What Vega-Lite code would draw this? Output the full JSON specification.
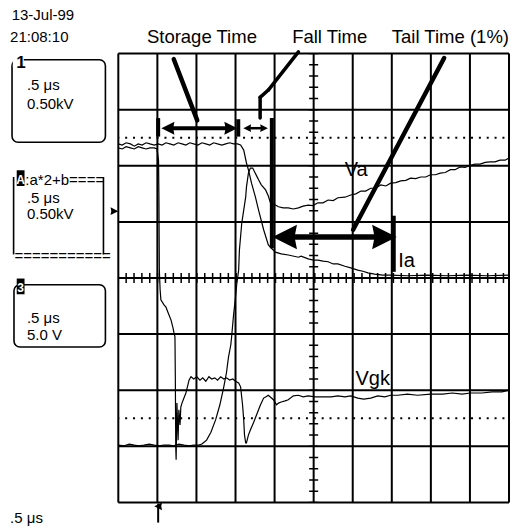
{
  "$schema": "https://vega.github.io/schema/vega-lite/v6.json",
  "width": 514,
  "height": 529,
  "autosize": {"type": "fit", "contains": "padding"},
  "padding": 0,
  "background": "white",
  "config": {"view": {"stroke": null}},
  "datasets": {
    "grid": [
      {"x": 0, "y": -4, "x2": 0, "y2": 4}, {"x": 1, "y": -4, "x2": 1, "y2": 4}, {"x": 2, "y": -4, "x2": 2, "y2": 4},
      {"x": 3, "y": -4, "x2": 3, "y2": 4}, {"x": 4, "y": -4, "x2": 4, "y2": 4}, {"x": 5, "y": -4, "x2": 5, "y2": 4},
      {"x": 6, "y": -4, "x2": 6, "y2": 4}, {"x": 7, "y": -4, "x2": 7, "y2": 4}, {"x": 8, "y": -4, "x2": 8, "y2": 4},
      {"x": 9, "y": -4, "x2": 9, "y2": 4}, {"x": 10, "y": -4, "x2": 10, "y2": 4},
      {"x": 0, "y": -4, "x2": 10, "y2": -4}, {"x": 0, "y": -3, "x2": 10, "y2": -3}, {"x": 0, "y": -2, "x2": 10, "y2": -2},
      {"x": 0, "y": -1, "x2": 10, "y2": -1}, {"x": 0, "y": 0, "x2": 10, "y2": 0}, {"x": 0, "y": 1, "x2": 10, "y2": 1},
      {"x": 0, "y": 2, "x2": 10, "y2": 2}, {"x": 0, "y": 3, "x2": 10, "y2": 3}, {"x": 0, "y": 4, "x2": 10, "y2": 4}
    ],
    "dotted": [
      {"x": 0, "y": 2.5, "x2": 10, "y2": 2.5},
      {"x": 0, "y": -2.5, "x2": 10, "y2": -2.5}
    ],
    "centerH": [{"x": 0, "y": 0, "x2": 10, "y2": 0}],
    "centerV": [{"x": 5, "y": -4, "x2": 5, "y2": 4}],
    "traces": [
      {"trace": "Ia", "x": 0, "y": 2.39}, {"trace": "Ia", "x": 0.10, "y": 2.37}, {"trace": "Ia", "x": 0.20, "y": 2.41},
      {"trace": "Ia", "x": 0.31, "y": 2.39}, {"trace": "Ia", "x": 0.41, "y": 2.35}, {"trace": "Ia", "x": 0.51, "y": 2.39},
      {"trace": "Ia", "x": 0.61, "y": 2.37}, {"trace": "Ia", "x": 0.71, "y": 2.41}, {"trace": "Ia", "x": 0.81, "y": 2.39},
      {"trace": "Ia", "x": 0.92, "y": 2.37}, {"trace": "Ia", "x": 1.02, "y": 2.39}, {"trace": "Ia", "x": 1.12, "y": 2.37},
      {"trace": "Ia", "x": 1.22, "y": 2.41}, {"trace": "Ia", "x": 1.32, "y": 2.39}, {"trace": "Ia", "x": 1.42, "y": 2.37},
      {"trace": "Ia", "x": 1.53, "y": 2.41}, {"trace": "Ia", "x": 1.63, "y": 2.39}, {"trace": "Ia", "x": 1.73, "y": 2.37},
      {"trace": "Ia", "x": 1.83, "y": 2.41}, {"trace": "Ia", "x": 1.93, "y": 2.39}, {"trace": "Ia", "x": 2.04, "y": 2.37},
      {"trace": "Ia", "x": 2.14, "y": 2.41}, {"trace": "Ia", "x": 2.24, "y": 2.39}, {"trace": "Ia", "x": 2.34, "y": 2.37},
      {"trace": "Ia", "x": 2.44, "y": 2.41}, {"trace": "Ia", "x": 2.54, "y": 2.39}, {"trace": "Ia", "x": 2.65, "y": 2.37},
      {"trace": "Ia", "x": 2.75, "y": 2.39}, {"trace": "Ia", "x": 2.85, "y": 2.41}, {"trace": "Ia", "x": 2.95, "y": 2.39},
      {"trace": "Ia", "x": 3.05, "y": 2.39}, {"trace": "Ia", "x": 3.13, "y": 2.37}, {"trace": "Ia", "x": 3.21, "y": 2.28},
      {"trace": "Ia", "x": 3.28, "y": 2.05}, {"trace": "Ia", "x": 3.33, "y": 1.93}, {"trace": "Ia", "x": 3.41, "y": 1.69},
      {"trace": "Ia", "x": 3.51, "y": 1.44}, {"trace": "Ia", "x": 3.59, "y": 1.21}, {"trace": "Ia", "x": 3.72, "y": 0.86},
      {"trace": "Ia", "x": 3.84, "y": 0.59}, {"trace": "Ia", "x": 3.92, "y": 0.53}, {"trace": "Ia", "x": 4.02, "y": 0.46},
      {"trace": "Ia", "x": 4.17, "y": 0.43}, {"trace": "Ia", "x": 4.35, "y": 0.41}, {"trace": "Ia", "x": 4.61, "y": 0.37},
      {"trace": "Ia", "x": 4.68, "y": 0.39}, {"trace": "Ia", "x": 4.86, "y": 0.34}, {"trace": "Ia", "x": 4.99, "y": 0.32},
      {"trace": "Ia", "x": 5.11, "y": 0.32}, {"trace": "Ia", "x": 5.24, "y": 0.30}, {"trace": "Ia", "x": 5.37, "y": 0.29},
      {"trace": "Ia", "x": 5.50, "y": 0.25}, {"trace": "Ia", "x": 5.62, "y": 0.25}, {"trace": "Ia", "x": 5.80, "y": 0.21},
      {"trace": "Ia", "x": 5.95, "y": 0.18}, {"trace": "Ia", "x": 6.13, "y": 0.14}, {"trace": "Ia", "x": 6.26, "y": 0.12},
      {"trace": "Ia", "x": 6.39, "y": 0.09}, {"trace": "Ia", "x": 6.56, "y": 0.07}, {"trace": "Ia", "x": 6.77, "y": 0.05},
      {"trace": "Ia", "x": 6.97, "y": 0.05}, {"trace": "Ia", "x": 7.40, "y": 0.04}, {"trace": "Ia", "x": 7.91, "y": 0.05},
      {"trace": "Ia", "x": 8.42, "y": 0.04}, {"trace": "Ia", "x": 8.93, "y": 0.05}, {"trace": "Ia", "x": 9.44, "y": 0.04},
      {"trace": "Ia", "x": 10.0, "y": 0.05},

      {"trace": "Vgk", "x": 0, "y": 2.32}, {"trace": "Vgk", "x": 0.10, "y": 2.30}, {"trace": "Vgk", "x": 0.20, "y": 2.34},
      {"trace": "Vgk", "x": 0.31, "y": 2.32}, {"trace": "Vgk", "x": 0.41, "y": 2.30}, {"trace": "Vgk", "x": 0.51, "y": 2.34},
      {"trace": "Vgk", "x": 0.61, "y": 2.32}, {"trace": "Vgk", "x": 0.71, "y": 2.30}, {"trace": "Vgk", "x": 0.81, "y": 2.32},
      {"trace": "Vgk", "x": 0.92, "y": 2.32}, {"trace": "Vgk", "x": 0.99, "y": 2.30}, {"trace": "Vgk", "x": 1.03, "y": 2.10},
      {"trace": "Vgk", "x": 1.04, "y": 1.39}, {"trace": "Vgk", "x": 1.05, "y": 0.14}, {"trace": "Vgk", "x": 1.07, "y": -0.21},
      {"trace": "Vgk", "x": 1.09, "y": -0.39}, {"trace": "Vgk", "x": 1.17, "y": -0.48}, {"trace": "Vgk", "x": 1.22, "y": -0.52},
      {"trace": "Vgk", "x": 1.27, "y": -0.61}, {"trace": "Vgk", "x": 1.35, "y": -0.75}, {"trace": "Vgk", "x": 1.40, "y": -0.89},
      {"trace": "Vgk", "x": 1.42, "y": -0.96}, {"trace": "Vgk", "x": 1.45, "y": -1.05}, {"trace": "Vgk", "x": 1.46, "y": -1.82},
      {"trace": "Vgk", "x": 1.47, "y": -3.01}, {"trace": "Vgk", "x": 1.48, "y": -3.24}, {"trace": "Vgk", "x": 1.50, "y": -2.23},
      {"trace": "Vgk", "x": 1.53, "y": -2.89}, {"trace": "Vgk", "x": 1.55, "y": -2.35}, {"trace": "Vgk", "x": 1.58, "y": -2.62},
      {"trace": "Vgk", "x": 1.60, "y": -2.30}, {"trace": "Vgk", "x": 1.63, "y": -2.23}, {"trace": "Vgk", "x": 1.68, "y": -2.14},
      {"trace": "Vgk", "x": 1.73, "y": -2.05}, {"trace": "Vgk", "x": 1.78, "y": -1.91}, {"trace": "Vgk", "x": 1.81, "y": -1.82},
      {"trace": "Vgk", "x": 1.86, "y": -1.76}, {"trace": "Vgk", "x": 1.93, "y": -1.80}, {"trace": "Vgk", "x": 2.01, "y": -1.76},
      {"trace": "Vgk", "x": 2.09, "y": -1.82}, {"trace": "Vgk", "x": 2.16, "y": -1.78}, {"trace": "Vgk", "x": 2.24, "y": -1.84},
      {"trace": "Vgk", "x": 2.32, "y": -1.76}, {"trace": "Vgk", "x": 2.39, "y": -1.80}, {"trace": "Vgk", "x": 2.47, "y": -1.78},
      {"trace": "Vgk", "x": 2.54, "y": -1.82}, {"trace": "Vgk", "x": 2.62, "y": -1.76}, {"trace": "Vgk", "x": 2.70, "y": -1.80},
      {"trace": "Vgk", "x": 2.77, "y": -1.78}, {"trace": "Vgk", "x": 2.85, "y": -1.82}, {"trace": "Vgk", "x": 2.93, "y": -1.80},
      {"trace": "Vgk", "x": 3.00, "y": -1.84}, {"trace": "Vgk", "x": 3.08, "y": -1.87}, {"trace": "Vgk", "x": 3.13, "y": -1.94},
      {"trace": "Vgk", "x": 3.18, "y": -2.26}, {"trace": "Vgk", "x": 3.21, "y": -2.53}, {"trace": "Vgk", "x": 3.23, "y": -2.80},
      {"trace": "Vgk", "x": 3.26, "y": -2.94}, {"trace": "Vgk", "x": 3.28, "y": -2.94}, {"trace": "Vgk", "x": 3.33, "y": -2.80},
      {"trace": "Vgk", "x": 3.38, "y": -2.71}, {"trace": "Vgk", "x": 3.46, "y": -2.58}, {"trace": "Vgk", "x": 3.51, "y": -2.49},
      {"trace": "Vgk", "x": 3.59, "y": -2.35}, {"trace": "Vgk", "x": 3.64, "y": -2.26}, {"trace": "Vgk", "x": 3.72, "y": -2.14},
      {"trace": "Vgk", "x": 3.77, "y": -2.12}, {"trace": "Vgk", "x": 3.84, "y": -2.09}, {"trace": "Vgk", "x": 3.92, "y": -2.14},
      {"trace": "Vgk", "x": 3.97, "y": -2.17}, {"trace": "Vgk", "x": 4.05, "y": -2.26}, {"trace": "Vgk", "x": 4.10, "y": -2.23},
      {"trace": "Vgk", "x": 4.17, "y": -2.21}, {"trace": "Vgk", "x": 4.27, "y": -2.19}, {"trace": "Vgk", "x": 4.35, "y": -2.17},
      {"trace": "Vgk", "x": 4.48, "y": -2.10}, {"trace": "Vgk", "x": 4.61, "y": -2.09}, {"trace": "Vgk", "x": 4.73, "y": -2.12},
      {"trace": "Vgk", "x": 4.86, "y": -2.10}, {"trace": "Vgk", "x": 5.04, "y": -2.12}, {"trace": "Vgk", "x": 5.24, "y": -2.12},
      {"trace": "Vgk", "x": 5.45, "y": -2.12}, {"trace": "Vgk", "x": 5.62, "y": -2.10}, {"trace": "Vgk", "x": 5.80, "y": -2.12},
      {"trace": "Vgk", "x": 5.95, "y": -2.10}, {"trace": "Vgk", "x": 6.13, "y": -2.14}, {"trace": "Vgk", "x": 6.28, "y": -2.16},
      {"trace": "Vgk", "x": 6.46, "y": -2.14}, {"trace": "Vgk", "x": 6.64, "y": -2.10}, {"trace": "Vgk", "x": 6.82, "y": -2.12},
      {"trace": "Vgk", "x": 6.97, "y": -2.09}, {"trace": "Vgk", "x": 7.15, "y": -2.09}, {"trace": "Vgk", "x": 7.40, "y": -2.07},
      {"trace": "Vgk", "x": 7.66, "y": -2.09}, {"trace": "Vgk", "x": 7.99, "y": -2.07}, {"trace": "Vgk", "x": 8.30, "y": -2.07},
      {"trace": "Vgk", "x": 8.55, "y": -2.05}, {"trace": "Vgk", "x": 8.80, "y": -2.07}, {"trace": "Vgk", "x": 9.01, "y": -2.05},
      {"trace": "Vgk", "x": 9.31, "y": -2.05}, {"trace": "Vgk", "x": 9.57, "y": -2.03}, {"trace": "Vgk", "x": 9.82, "y": -2.03},
      {"trace": "Vgk", "x": 9.95, "y": -2.01}, {"trace": "Vgk", "x": 10.0, "y": -1.99},

      {"trace": "Va", "x": 0, "y": -2.98}, {"trace": "Va", "x": 0.15, "y": -2.99}, {"trace": "Va", "x": 0.28, "y": -2.96},
      {"trace": "Va", "x": 0.41, "y": -2.98}, {"trace": "Va", "x": 0.53, "y": -2.99}, {"trace": "Va", "x": 0.66, "y": -2.98},
      {"trace": "Va", "x": 0.79, "y": -2.96}, {"trace": "Va", "x": 0.92, "y": -2.98}, {"trace": "Va", "x": 1.04, "y": -2.99},
      {"trace": "Va", "x": 1.17, "y": -2.98}, {"trace": "Va", "x": 1.30, "y": -2.98}, {"trace": "Va", "x": 1.42, "y": -2.99},
      {"trace": "Va", "x": 1.55, "y": -2.96}, {"trace": "Va", "x": 1.68, "y": -2.98}, {"trace": "Va", "x": 1.81, "y": -2.99},
      {"trace": "Va", "x": 1.93, "y": -2.98}, {"trace": "Va", "x": 2.06, "y": -2.98}, {"trace": "Va", "x": 2.14, "y": -2.96},
      {"trace": "Va", "x": 2.21, "y": -2.92}, {"trace": "Va", "x": 2.26, "y": -2.89}, {"trace": "Va", "x": 2.37, "y": -2.75},
      {"trace": "Va", "x": 2.49, "y": -2.53}, {"trace": "Va", "x": 2.60, "y": -2.26}, {"trace": "Va", "x": 2.70, "y": -1.94},
      {"trace": "Va", "x": 2.77, "y": -1.68}, {"trace": "Va", "x": 2.82, "y": -1.41}, {"trace": "Va", "x": 2.88, "y": -1.19},
      {"trace": "Va", "x": 2.90, "y": -1.05}, {"trace": "Va", "x": 2.95, "y": -0.66}, {"trace": "Va", "x": 3.00, "y": -0.34},
      {"trace": "Va", "x": 3.03, "y": -0.12}, {"trace": "Va", "x": 3.08, "y": 0.14}, {"trace": "Va", "x": 3.10, "y": 0.50},
      {"trace": "Va", "x": 3.16, "y": 0.98}, {"trace": "Va", "x": 3.21, "y": 1.21}, {"trace": "Va", "x": 3.26, "y": 1.44},
      {"trace": "Va", "x": 3.28, "y": 1.62}, {"trace": "Va", "x": 3.33, "y": 1.87}, {"trace": "Va", "x": 3.38, "y": 1.96},
      {"trace": "Va", "x": 3.44, "y": 1.96}, {"trace": "Va", "x": 3.49, "y": 1.89}, {"trace": "Va", "x": 3.54, "y": 1.82},
      {"trace": "Va", "x": 3.59, "y": 1.75}, {"trace": "Va", "x": 3.66, "y": 1.66}, {"trace": "Va", "x": 3.77, "y": 1.57},
      {"trace": "Va", "x": 3.84, "y": 1.46}, {"trace": "Va", "x": 3.89, "y": 1.35}, {"trace": "Va", "x": 3.97, "y": 1.32},
      {"trace": "Va", "x": 4.02, "y": 1.30}, {"trace": "Va", "x": 4.10, "y": 1.27}, {"trace": "Va", "x": 4.22, "y": 1.25},
      {"trace": "Va", "x": 4.35, "y": 1.25}, {"trace": "Va", "x": 4.48, "y": 1.23}, {"trace": "Va", "x": 4.61, "y": 1.25},
      {"trace": "Va", "x": 4.73, "y": 1.28}, {"trace": "Va", "x": 4.86, "y": 1.30}, {"trace": "Va", "x": 4.98, "y": 1.29},
      {"trace": "Va", "x": 5.11, "y": 1.34}, {"trace": "Va", "x": 5.24, "y": 1.34}, {"trace": "Va", "x": 5.37, "y": 1.39},
      {"trace": "Va", "x": 5.50, "y": 1.38}, {"trace": "Va", "x": 5.62, "y": 1.43}, {"trace": "Va", "x": 5.80, "y": 1.44},
      {"trace": "Va", "x": 5.95, "y": 1.48}, {"trace": "Va", "x": 6.08, "y": 1.50}, {"trace": "Va", "x": 6.21, "y": 1.55},
      {"trace": "Va", "x": 6.33, "y": 1.55}, {"trace": "Va", "x": 6.46, "y": 1.60}, {"trace": "Va", "x": 6.59, "y": 1.60},
      {"trace": "Va", "x": 6.72, "y": 1.66}, {"trace": "Va", "x": 6.85, "y": 1.64}, {"trace": "Va", "x": 6.97, "y": 1.69},
      {"trace": "Va", "x": 7.10, "y": 1.70}, {"trace": "Va", "x": 7.23, "y": 1.73}, {"trace": "Va", "x": 7.36, "y": 1.74},
      {"trace": "Va", "x": 7.48, "y": 1.78}, {"trace": "Va", "x": 7.61, "y": 1.77}, {"trace": "Va", "x": 7.74, "y": 1.80},
      {"trace": "Va", "x": 7.87, "y": 1.80}, {"trace": "Va", "x": 7.99, "y": 1.84}, {"trace": "Va", "x": 8.12, "y": 1.84},
      {"trace": "Va", "x": 8.24, "y": 1.87}, {"trace": "Va", "x": 8.37, "y": 1.88}, {"trace": "Va", "x": 8.50, "y": 1.93},
      {"trace": "Va", "x": 8.62, "y": 1.93}, {"trace": "Va", "x": 8.75, "y": 1.98}, {"trace": "Va", "x": 8.88, "y": 1.97},
      {"trace": "Va", "x": 9.01, "y": 2.01}, {"trace": "Va", "x": 9.13, "y": 2.03}, {"trace": "Va", "x": 9.26, "y": 2.03},
      {"trace": "Va", "x": 9.39, "y": 2.06}, {"trace": "Va", "x": 9.52, "y": 2.07}, {"trace": "Va", "x": 9.64, "y": 2.07},
      {"trace": "Va", "x": 9.77, "y": 2.10}, {"trace": "Va", "x": 9.90, "y": 2.10}, {"trace": "Va", "x": 10.0, "y": 2.14}
    ],
    "pointers": [
      {"x": 1.42, "y": 3.90, "x2": 2.02, "y2": 2.81},
      {"x": 8.34, "y": 3.92, "x2": 6.01, "y2": 0.86}
    ],
    "fallPointer": [
      {"x": 4.61, "y": 4.03, "x2": 3.84, "y2": 3.35},
      {"x": 3.84, "y": 3.35, "x2": 3.63, "y2": 3.22},
      {"x": 3.63, "y": 3.22, "x2": 3.63, "y2": 2.85}
    ],
    "bars": [
      {"x": 1.02, "y": 2.85, "x2": 1.02, "y2": 2.52},
      {"x": 3.07, "y": 2.83, "x2": 3.07, "y2": 2.52},
      {"x": 3.93, "y": 2.85, "x2": 3.93, "y2": 0.53},
      {"x": 7.05, "y": 1.11, "x2": 7.05, "y2": 0.11},
      {"x": 1.25, "y": 2.67, "x2": 2.90, "y2": 2.67}
    ],
    "thinShaft": [
      {"x": 3.30, "y": 2.67, "x2": 3.73, "y2": 2.67}
    ],
    "tailShaft": [
      {"x": 4.26, "y": 0.73, "x2": 6.81, "y2": 0.73}
    ],
    "smallHeads": [
      {"x": 1.27, "y": 2.67, "dir": "left", "arrow": "storage"},
      {"x": 2.88, "y": 2.67, "dir": "right", "arrow": "storage"},
      {"x": 3.30, "y": 2.67, "dir": "left", "arrow": "fall"},
      {"x": 3.73, "y": 2.67, "dir": "right", "arrow": "fall"}
    ],
    "tailHeads": [
      {"x": 4.26, "y": 0.73, "dir": "left"},
      {"x": 6.81, "y": 0.73, "dir": "right"}
    ],
    "titles": [
      {"x": 2.14, "y": 4.18, "t": "Storage Time"},
      {"x": 5.41, "y": 4.18, "t": "Fall Time"},
      {"x": 8.50, "y": 4.18, "t": "Tail Time (1%)"}
    ],
    "traceLabels": [
      {"x": 6.09, "y": 1.81, "t": "Va"},
      {"x": 7.38, "y": 0.20, "t": "Ia"},
      {"x": 6.51, "y": -1.91, "t": "Vgk"}
    ],
    "boxes": [
      {"x": -2.72, "y": 3.89, "x2": -0.33, "y2": 2.42},
      {"x": -2.67, "y": -0.12, "x2": -0.33, "y2": -1.23}
    ],
    "boxSides": [
      {"x": -2.68, "y": 1.80, "x2": -2.68, "y2": 0.42},
      {"x": -0.38, "y": 1.80, "x2": -0.38, "y2": 0.42}
    ],
    "whiteCover": [
      {"x": -2.70, "y": 3.99, "x2": -2.42, "y2": 3.76}
    ],
    "labelBlocks": [
      {"x": -2.60, "y": 1.92, "x2": -2.40, "y2": 1.64},
      {"x": -2.60, "y": -0.01, "x2": -2.40, "y2": -0.29}
    ],
    "labelInv": [
      {"x": -2.50, "y": 1.68, "t": "A"},
      {"x": -2.50, "y": -0.25, "t": "3"}
    ],
    "labelBold": [
      {"x": -2.49, "y": 3.74, "t": "1"}
    ],
    "leftText": [
      {"x": -2.73, "y": 4.60, "t": "13-Jul-99"},
      {"x": -2.77, "y": 4.21, "t": "21:08:10"},
      {"x": -2.34, "y": 3.35, "t": ".5 μs"},
      {"x": -2.34, "y": 3.02, "t": "0.50kV"},
      {"x": -2.38, "y": 1.66, "t": ":a*2+b===="},
      {"x": -2.34, "y": 1.34, "t": ".5 μs"},
      {"x": -2.34, "y": 1.05, "t": "0.50kV"},
      {"x": -2.66, "y": 0.31, "t": "==========="},
      {"x": -2.34, "y": -0.80, "t": ".5 μs"},
      {"x": -2.34, "y": -1.11, "t": "5.0 V"},
      {"x": -2.77, "y": -4.37, "t": ".5 μs"}
    ],
    "markers": [
      {"x": -0.10, "y": 1.19, "dir": "right"},
      {"x": 1.02, "y": -4.07, "dir": "up"}
    ],
    "trigStem": [
      {"x": 1.02, "y": -4.02, "x2": 1.02, "y2": -4.36}
    ]
  },
  "encoding": {
    "x": {"field": "x", "type": "quantitative", "scale": {"domain": [-3.028, 10.051], "nice": false, "zero": false}, "axis": null},
    "y": {"field": "y", "type": "quantitative", "scale": {"domain": [-4.474, 4.955], "nice": false, "zero": false}, "axis": null}
  },
  "layer": [
    {"data": {"name": "grid"}, "mark": {"type": "rule", "color": "black", "strokeWidth": 2}, "encoding": {"x2": {"field": "x2"}, "y2": {"field": "y2"}}},
    {"data": {"name": "dotted"}, "mark": {"type": "rule", "color": "black", "strokeWidth": 2, "strokeDash": [2, 5.86], "strokeDashOffset": 1}, "encoding": {"x2": {"field": "x2"}, "y2": {"field": "y2"}}},
    {"data": {"name": "centerH"}, "mark": {"type": "rule", "color": "black", "strokeWidth": 10, "strokeDash": [1.5, 6.36], "strokeDashOffset": 0.75}, "encoding": {"x2": {"field": "x2"}, "y2": {"field": "y2"}}},
    {"data": {"name": "centerV"}, "mark": {"type": "rule", "color": "black", "strokeWidth": 9, "strokeDash": [1.5, 9.72], "strokeDashOffset": 0.75}, "encoding": {"x2": {"field": "x2"}, "y2": {"field": "y2"}}},
    {"data": {"name": "traces"}, "mark": {"type": "line", "color": "black", "strokeWidth": 1.2}, "encoding": {"detail": {"field": "trace"}}},
    {"data": {"name": "pointers"}, "mark": {"type": "rule", "color": "black", "strokeWidth": 4.5, "strokeCap": "round"}, "encoding": {"x2": {"field": "x2"}, "y2": {"field": "y2"}}},
    {"data": {"name": "fallPointer"}, "mark": {"type": "rule", "color": "black", "strokeWidth": 3.5, "strokeCap": "round"}, "encoding": {"x2": {"field": "x2"}, "y2": {"field": "y2"}}},
    {"data": {"name": "bars"}, "mark": {"type": "rule", "color": "black", "strokeWidth": 4}, "encoding": {"x2": {"field": "x2"}, "y2": {"field": "y2"}}},
    {"data": {"name": "thinShaft"}, "mark": {"type": "rule", "color": "black", "strokeWidth": 2.5}, "encoding": {"x2": {"field": "x2"}, "y2": {"field": "y2"}}},
    {"data": {"name": "tailShaft"}, "mark": {"type": "rule", "color": "black", "strokeWidth": 5.5}, "encoding": {"x2": {"field": "x2"}, "y2": {"field": "y2"}}},
    {"data": {"name": "smallHeads"}, "mark": {"type": "point", "filled": true, "color": "black", "opacity": 1},
      "encoding": {
        "shape": {"field": "dir", "type": "nominal", "scale": {"domain": ["left", "right"], "range": ["M-1,0L1,-1L0.8,0L1,1Z", "M1,0L-1,-1L-0.8,0L-1,1Z"]}, "legend": null},
        "size": {"field": "arrow", "type": "nominal", "scale": {"domain": ["storage", "fall"], "range": [170, 60]}, "legend": null}
      }},
    {"data": {"name": "tailHeads"}, "mark": {"type": "point", "filled": true, "color": "black", "opacity": 1, "size": 600},
      "encoding": {
        "shape": {"field": "dir", "type": "nominal", "scale": {"domain": ["left", "right"], "range": ["M-0.5,0L0.5,-1L0.3,0L0.5,1Z", "M0.5,0L-0.5,-1L-0.3,0L-0.5,1Z"]}, "legend": null}
      }},
    {"data": {"name": "titles"}, "mark": {"type": "text", "color": "black", "fontSize": 18.5, "align": "center", "baseline": "alphabetic", "font": "Liberation Sans, Arial, sans-serif"}, "encoding": {"text": {"field": "t"}}},
    {"data": {"name": "traceLabels"}, "mark": {"type": "text", "color": "black", "fontSize": 20, "align": "center", "baseline": "alphabetic", "font": "Liberation Sans, Arial, sans-serif"}, "encoding": {"text": {"field": "t"}}},
    {"data": {"name": "boxes"}, "mark": {"type": "rect", "fill": null, "fillOpacity": 0, "stroke": "black", "strokeWidth": 1.6, "cornerRadius": 6}, "encoding": {"x2": {"field": "x2"}, "y2": {"field": "y2"}}},
    {"data": {"name": "boxSides"}, "mark": {"type": "rule", "color": "black", "strokeWidth": 1.6}, "encoding": {"x2": {"field": "x2"}, "y2": {"field": "y2"}}},
    {"data": {"name": "whiteCover"}, "mark": {"type": "rect", "color": "white", "opacity": 1}, "encoding": {"x2": {"field": "x2"}, "y2": {"field": "y2"}}},
    {"data": {"name": "labelBlocks"}, "mark": {"type": "rect", "color": "black", "opacity": 1}, "encoding": {"x2": {"field": "x2"}, "y2": {"field": "y2"}}},
    {"data": {"name": "labelInv"}, "mark": {"type": "text", "color": "white", "fontSize": 12, "fontWeight": "bold", "align": "center", "baseline": "alphabetic", "font": "Liberation Sans, Arial, sans-serif"}, "encoding": {"text": {"field": "t"}}},
    {"data": {"name": "labelBold"}, "mark": {"type": "text", "color": "black", "fontSize": 17, "fontWeight": "bold", "align": "center", "baseline": "alphabetic", "font": "Liberation Sans, Arial, sans-serif"}, "encoding": {"text": {"field": "t"}}},
    {"data": {"name": "leftText"}, "mark": {"type": "text", "color": "black", "fontSize": 15, "align": "left", "baseline": "alphabetic", "font": "Liberation Sans, Arial, sans-serif"}, "encoding": {"text": {"field": "t"}}},
    {"data": {"name": "trigStem"}, "mark": {"type": "rule", "color": "black", "strokeWidth": 2}, "encoding": {"x2": {"field": "x2"}, "y2": {"field": "y2"}}},
    {"data": {"name": "markers"}, "mark": {"type": "point", "filled": true, "color": "black", "opacity": 1, "size": 60},
      "encoding": {
        "shape": {"field": "dir", "type": "nominal", "scale": {"domain": ["right", "up"], "range": ["triangle-right", "triangle-up"]}, "legend": null}
      }}
  ]
}
